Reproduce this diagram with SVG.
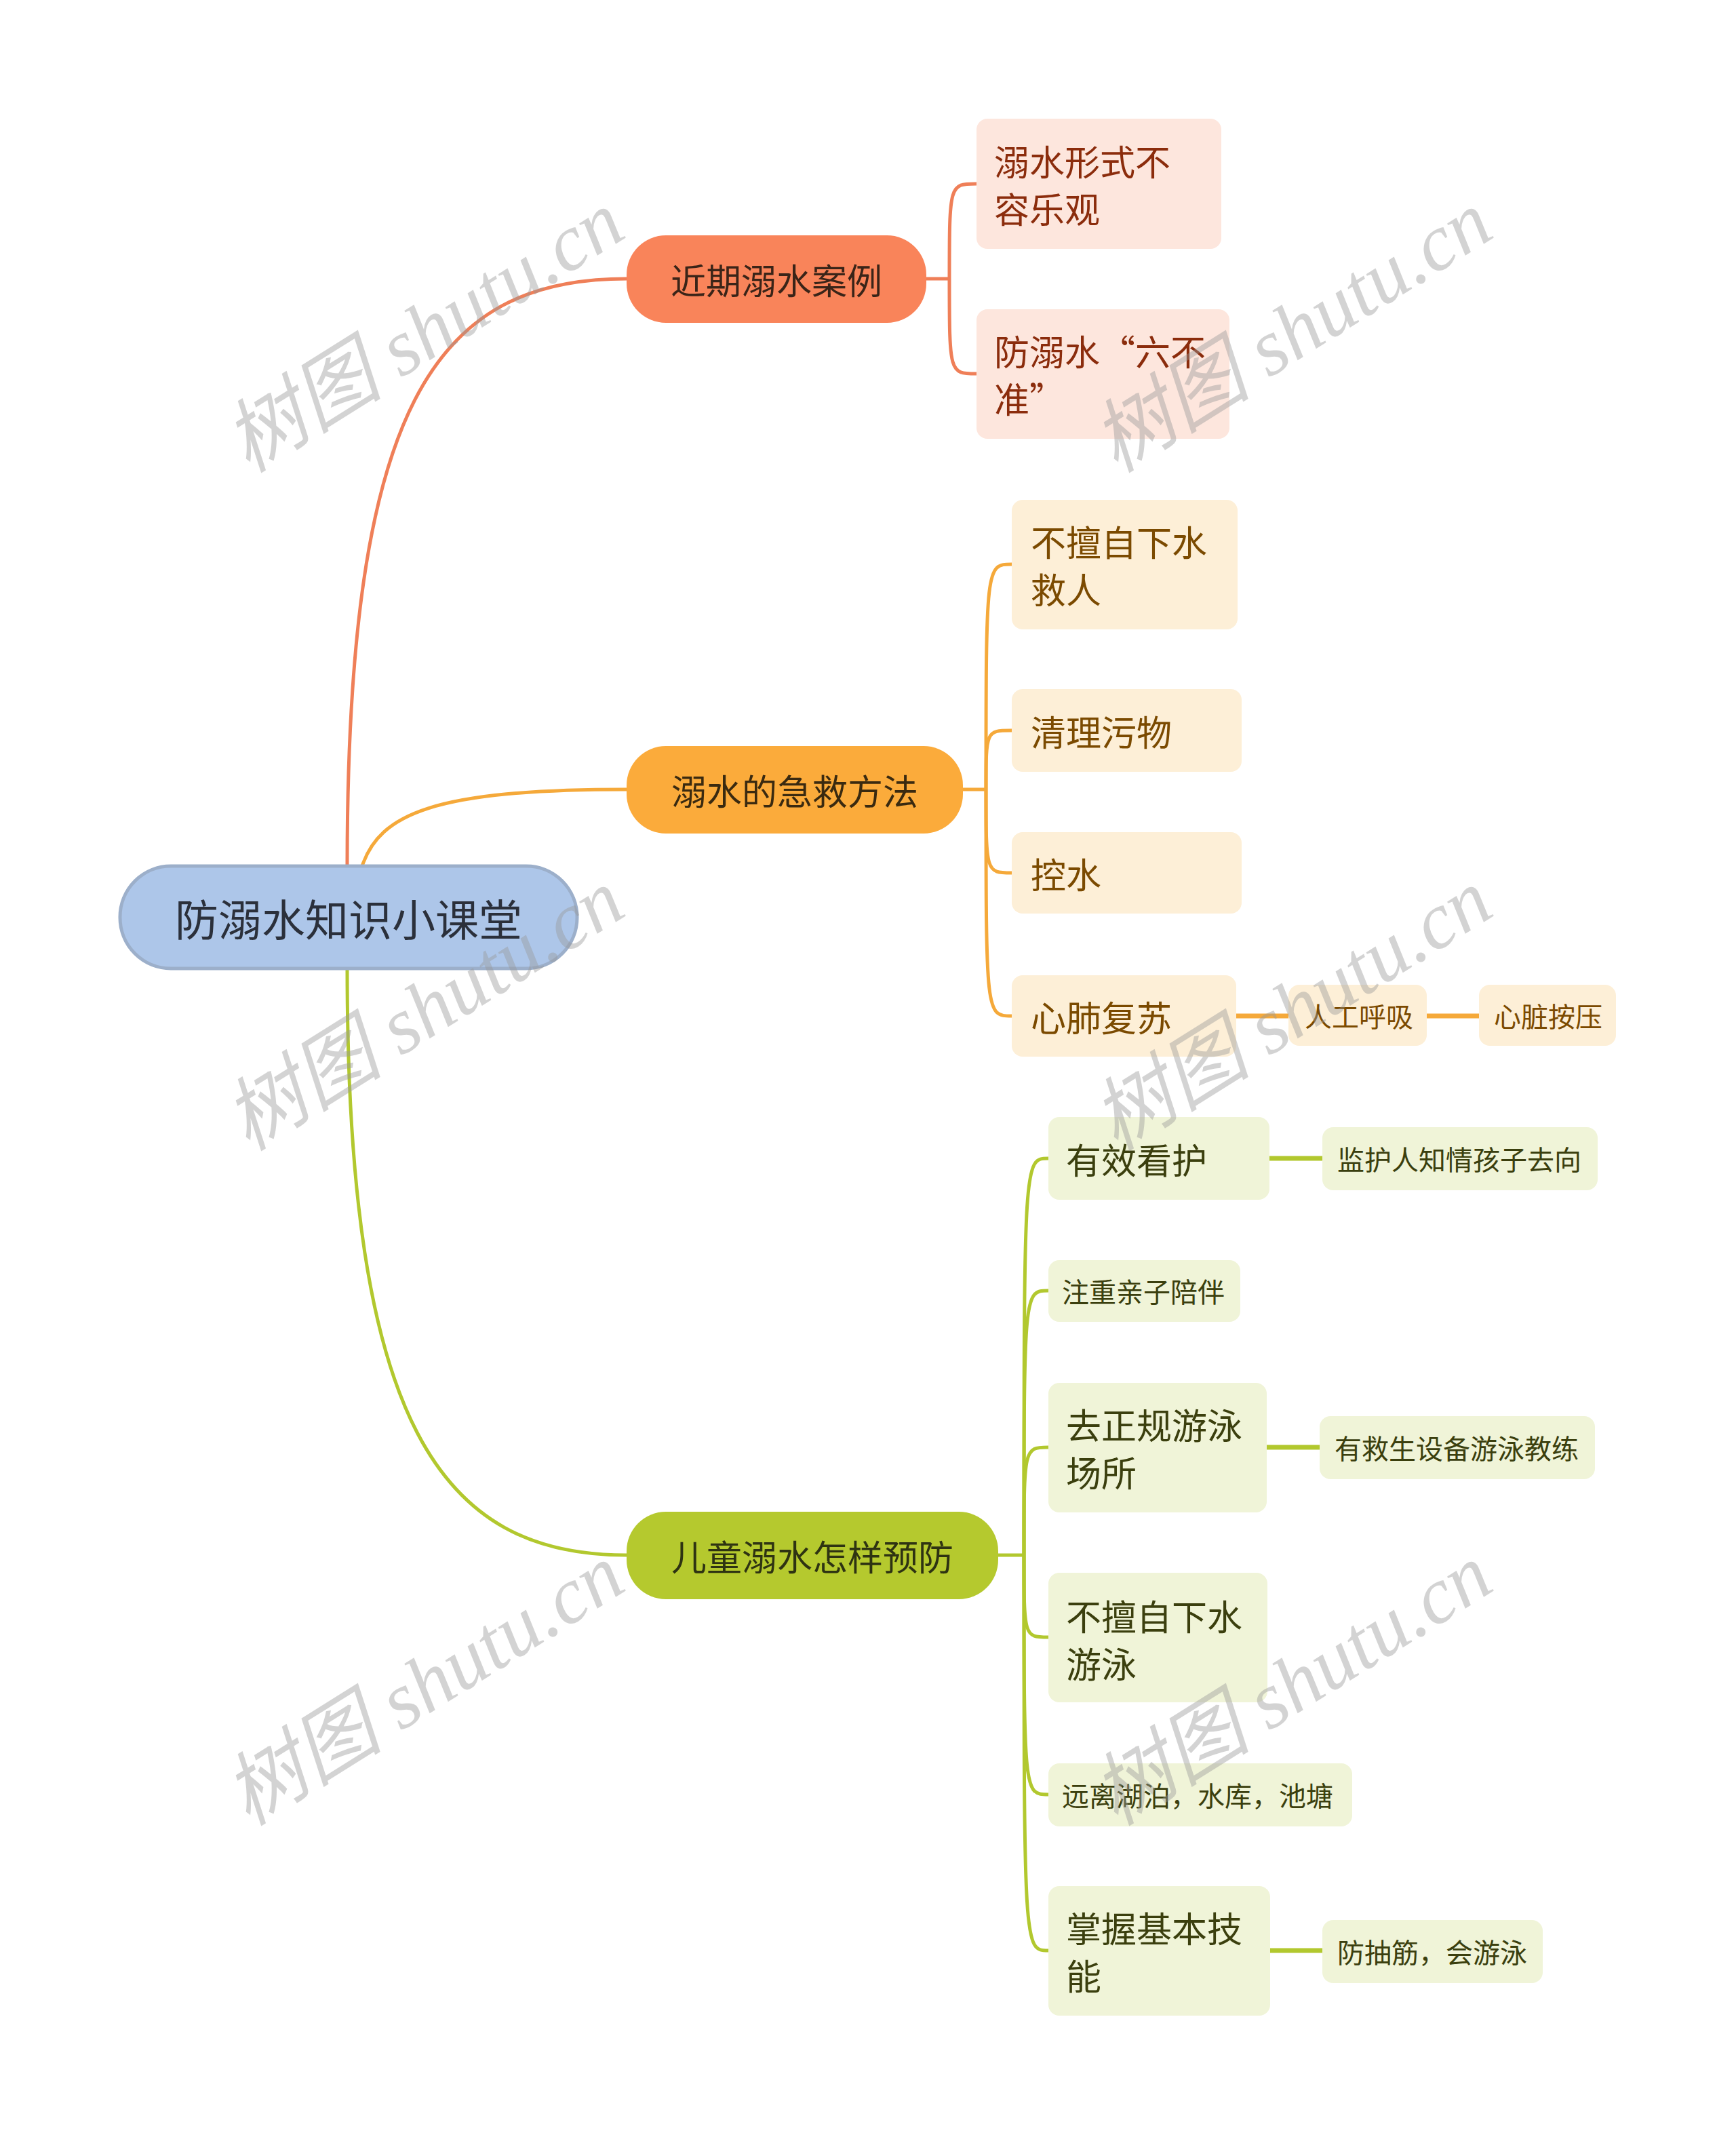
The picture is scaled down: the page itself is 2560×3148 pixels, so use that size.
<svg xmlns="http://www.w3.org/2000/svg" width="2560" height="3148" viewBox="0 0 2560 3148">
<style>
text{font-family:"Noto Sans CJK SC","Noto Sans",sans-serif;dominant-baseline:central}
.c1{fill:none;stroke:#ef7f58;stroke-width:5}
.c2{fill:none;stroke:#f5a93a;stroke-width:5}
.c3{fill:none;stroke:#b2c82e;stroke-width:5}
.c2s{fill:none;stroke:#f5a93a;stroke-width:7}
.c3s{fill:none;stroke:#b2c82e;stroke-width:7}
.l1{fill:#fde6dd}.t1{fill:#8b2c0c;font-size:52px}
.l2{fill:#fdefd7}.t2{fill:#7b4a00;font-size:52px}.t2s{fill:#7b4a00;font-size:40px}
.l3{fill:#f0f4d8}.t3{fill:#3b3f0e;font-size:52px}.t3s{fill:#3b3f0e;font-size:40px}
.bt{font-size:52px;text-anchor:middle}
.wm{font-family:"Liberation Serif","Noto Sans CJK SC",serif;font-style:italic;font-size:118px;fill:#999;opacity:0.42}
</style>
<rect width="2560" height="3148" fill="#fff"/>
<g id="connectors">
<path class="c1" d="M512 1277 C512 600 640 411 924 411"/>
<path class="c2" d="M534 1277 C560 1200 640 1164 924 1164"/>
<path class="c3" d="M512 1428 C512 2100 650 2293 924 2293"/>
<path class="c1" d="M1366 411 H1400"/>
<path class="c1" d="M1400 411 C1400 271 1400 271 1440 271"/>
<path class="c1" d="M1400 411 C1400 551 1400 551 1440 551"/>
<path class="c2" d="M1420 1164 H1454"/>
<path class="c2" d="M1454 1164 C1454 832 1454 832 1492 832"/>
<path class="c2" d="M1454 1164 C1454 1077 1454 1077 1492 1077"/>
<path class="c2" d="M1454 1164 C1454 1287 1454 1287 1492 1287"/>
<path class="c2" d="M1454 1164 C1454 1498 1454 1498 1492 1498"/>
<path class="c2s" d="M1823 1498 H1900"/>
<path class="c2s" d="M2104 1498 H2181"/>
<path class="c3" d="M1472 2293 H1510"/>
<path class="c3" d="M1510 2293 C1510 1708 1510 1708 1546 1708"/>
<path class="c3" d="M1510 2293 C1510 1903 1510 1903 1546 1903"/>
<path class="c3" d="M1510 2293 C1510 2134 1510 2134 1546 2134"/>
<path class="c3" d="M1510 2293 C1510 2414 1510 2414 1546 2414"/>
<path class="c3" d="M1510 2293 C1510 2646 1510 2646 1546 2646"/>
<path class="c3" d="M1510 2293 C1510 2876 1510 2876 1546 2876"/>
<path class="c3s" d="M1872 1708 H1950"/>
<path class="c3s" d="M1868 2134 H1946"/>
<path class="c3s" d="M1873 2876 H1950"/>
</g>
<g id="root">
<rect x="177" y="1277" width="674" height="151" rx="75" fill="#adc6e9" stroke="#9cafca" stroke-width="5"/>
<text x="514" y="1352" font-size="64" text-anchor="middle" fill="#2b303b">防溺水知识小课堂</text>
</g>
<g id="b1">
<rect x="924" y="347" width="442" height="129" rx="58" fill="#f9845a"/>
<text class="bt" x="1145" y="411" fill="#3a2418">近期溺水案例</text>
</g>
<g id="b2">
<rect x="924" y="1100" width="496" height="129" rx="58" fill="#fbab3b"/>
<text class="bt" x="1172" y="1164" fill="#3a2a10">溺水的急救方法</text>
</g>
<g id="b3">
<rect x="924" y="2229" width="548" height="129" rx="58" fill="#b5c92e"/>
<text class="bt" x="1198" y="2293" fill="#2e3312">儿童溺水怎样预防</text>
</g>
<g id="n1a"><rect class="l1" x="1440" y="175" width="361" height="192" rx="16"/>
<text class="t1" x="1466" y="236">溺水形式不</text><text class="t1" x="1466" y="306">容乐观</text></g>
<g id="n1b"><rect class="l1" x="1440" y="456" width="373" height="191" rx="16"/>
<text class="t1" x="1466" y="516">防溺水“六不</text><text class="t1" x="1466" y="586">准”</text></g>
<g id="n2a"><rect class="l2" x="1492" y="737" width="333" height="191" rx="16"/>
<text class="t2" x="1520" y="797">不擅自下水</text><text class="t2" x="1520" y="867">救人</text></g>
<g id="n2b"><rect class="l2" x="1492" y="1016" width="339" height="122" rx="16"/>
<text class="t2" x="1520" y="1077">清理污物</text></g>
<g id="n2c"><rect class="l2" x="1492" y="1227" width="339" height="120" rx="16"/>
<text class="t2" x="1520" y="1287">控水</text></g>
<g id="n2d"><rect class="l2" x="1492" y="1438" width="331" height="120" rx="16"/>
<text class="t2" x="1520" y="1498">心肺复苏</text></g>
<g id="n2d1"><rect class="l2" x="1900" y="1452" width="204" height="90" rx="16"/>
<text class="t2s" x="1924" y="1497">人工呼吸</text></g>
<g id="n2d2"><rect class="l2" x="2181" y="1452" width="202" height="90" rx="16"/>
<text class="t2s" x="2203" y="1497">心脏按压</text></g>
<g id="n3a"><rect class="l3" x="1546" y="1647" width="326" height="122" rx="16"/>
<text class="t3" x="1572" y="1708">有效看护</text></g>
<g id="n3a1"><rect class="l3" x="1950" y="1662" width="406" height="93" rx="16"/>
<text class="t3s" x="1972" y="1708">监护人知情孩子去向</text></g>
<g id="n3b"><rect class="l3" x="1546" y="1858" width="283" height="91" rx="16"/>
<text class="t3s" x="1566" y="1903">注重亲子陪伴</text></g>
<g id="n3c"><rect class="l3" x="1546" y="2039" width="322" height="191" rx="16"/>
<text class="t3" x="1572" y="2099">去正规游泳</text><text class="t3" x="1572" y="2169">场所</text></g>
<g id="n3c1"><rect class="l3" x="1946" y="2088" width="406" height="93" rx="16"/>
<text class="t3s" x="1968" y="2134">有救生设备游泳教练</text></g>
<g id="n3d"><rect class="l3" x="1546" y="2319" width="323" height="191" rx="16"/>
<text class="t3" x="1572" y="2381">不擅自下水</text><text class="t3" x="1572" y="2451">游泳</text></g>
<g id="n3e"><rect class="l3" x="1546" y="2600" width="448" height="93" rx="16"/>
<text class="t3s" x="1566" y="2646">远离湖泊，水库，池塘</text></g>
<g id="n3f"><rect class="l3" x="1546" y="2781" width="327" height="191" rx="16"/>
<text class="t3" x="1572" y="2841">掌握基本技</text><text class="t3" x="1572" y="2911">能</text></g>
<g id="n3f1"><rect class="l3" x="1950" y="2831" width="325" height="93" rx="16"/>
<text class="t3s" x="1972" y="2877">防抽筋，会游泳</text></g>
<g id="watermarks">
<text class="wm" x="345" y="665" transform="rotate(-32 345 665)">树图 shutu.cn</text>
<text class="wm" x="1625" y="665" transform="rotate(-32 1625 665)">树图 shutu.cn</text>
<text class="wm" x="345" y="1665" transform="rotate(-32 345 1665)">树图 shutu.cn</text>
<text class="wm" x="1625" y="1665" transform="rotate(-32 1625 1665)">树图 shutu.cn</text>
<text class="wm" x="345" y="2660" transform="rotate(-32 345 2660)">树图 shutu.cn</text>
<text class="wm" x="1625" y="2660" transform="rotate(-32 1625 2660)">树图 shutu.cn</text>
</g>
</svg>
